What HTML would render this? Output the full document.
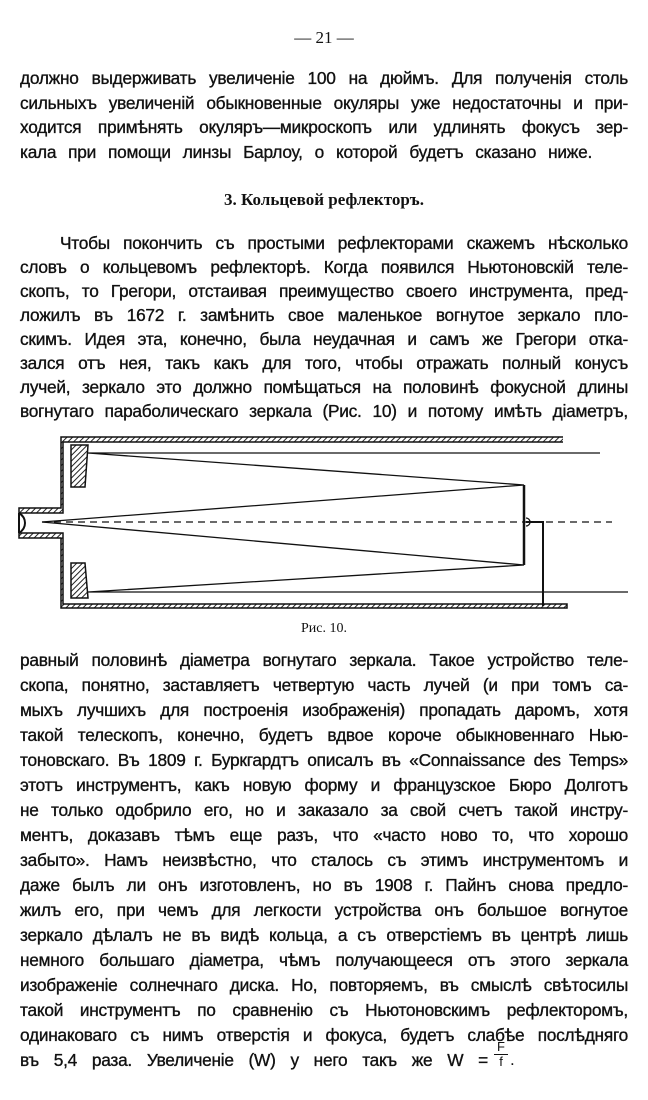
<!DOCTYPE html>
<html><head><meta charset="utf-8"><style>
body{margin:0;width:648px;height:1100px;background:#fff;position:relative;overflow:hidden;font-family:"Liberation Sans","DejaVu Sans",sans-serif;color:#111}
.l{position:absolute;left:20px;width:608px;font-size:17.3px;line-height:20px;text-align:justify;text-align-last:justify;white-space:nowrap;letter-spacing:-0.25px;-webkit-text-stroke:0.35px #111}
.c{position:absolute;left:0;width:648px;text-align:center}
</style></head><body>
<div class="c" style="top:28px;font-size:17px;font-family:'Liberation Serif',serif">— 21 —</div>
<div class="l" style="top:68px">должно выдерживать увеличеніе 100 на дюймъ. Для полученія столь</div>
<div class="l" style="top:93px">сильныхъ увеличеній обыкновенные окуляры уже недостаточны и при-</div>
<div class="l" style="top:117px">ходится примѣнять окуляръ—микроскопъ или удлинять фокусъ зер-</div>
<div class="l" style="top:142px;width:572px">кала при помощи линзы Барлоу, о которой будетъ сказано ниже.</div>
<div class="c" style="top:190px;font-size:17px;font-weight:bold;font-family:'Liberation Serif',serif">3. Кольцевой рефлекторъ.</div>
<div class="l" style="top:233px;left:60px;width:568px">Чтобы покончить съ простыми рефлекторами скажемъ нѣсколько</div>
<div class="l" style="top:257px">словъ о кольцевомъ рефлекторѣ. Когда появился Ньютоновскій теле-</div>
<div class="l" style="top:281px">скопъ, то Грегори, отстаивая преимущество своего инструмента, пред-</div>
<div class="l" style="top:305px">ложилъ въ 1672 г. замѣнить свое маленькое вогнутое зеркало пло-</div>
<div class="l" style="top:329px">скимъ. Идея эта, конечно, была неудачная и самъ же Грегори отка-</div>
<div class="l" style="top:353px">зался отъ нея, такъ какъ для того, чтобы отражать полный конусъ</div>
<div class="l" style="top:377px">лучей, зеркало это должно помѣщаться на половинѣ фокусной длины</div>
<div class="l" style="top:401px">вогнутаго параболическаго зеркала (Рис. 10) и потому имѣть діаметръ,</div>
<svg style="position:absolute;left:0;top:0" width="648" height="1100">
<defs><pattern id="h" width="4" height="4" patternUnits="userSpaceOnUse" patternTransform="rotate(45)"><rect width="4" height="4" fill="#fff"/><line x1="0" y1="0" x2="0" y2="4" stroke="#222" stroke-width="2"/></pattern></defs>
<g stroke="#111" fill="none">
<path d="M563 437 H61 V508 H19 V513 H63 V442 H563" fill="url(#h)" stroke-width="1.5"/>
<path d="M567 608 H61 V538 H19 V533 H63 V604 H567 Z" fill="url(#h)" stroke-width="1.5"/>
<path d="M19 513 V533 M19 513 C27 518 27 528 19 533" stroke-width="2"/>
<path d="M71 445 H88 L85 487 H71 Z" fill="url(#h)" stroke-width="1.5"/>
<path d="M71 563 H85 L88 598 H71 Z" fill="url(#h)" stroke-width="1.5"/>
<path d="M88 453 H600 M88 453 L524 485 L42 522 L524 565 L88 592 H628" stroke-width="1.3"/>
<path d="M524 485 V565" stroke-width="2.5"/>
<path d="M42 522 H612" stroke-dasharray="7 5" stroke-width="1.3"/>
<path d="M526 518 a4 4 0 0 1 0 8" stroke-width="1.3"/>
<path d="M526 522 H543 V606" stroke-width="2"/>
</g></svg>
<div class="c" style="top:621px;font-size:14px;font-family:'Liberation Serif',serif">Рис. 10.</div>
<div class="l" style="top:650px">равный половинѣ діаметра вогнутаго зеркала. Такое устройство теле-</div>
<div class="l" style="top:675px">скопа, понятно, заставляетъ четвертую часть лучей (и при томъ са-</div>
<div class="l" style="top:700px">мыхъ лучшихъ для построенія изображенія) пропадать даромъ, хотя</div>
<div class="l" style="top:725px">такой телескопъ, конечно, будетъ вдвое короче обыкновеннаго Нью-</div>
<div class="l" style="top:750px">тоновскаго. Въ 1809 г. Буркгардтъ описалъ въ «Connaissance des Temps»</div>
<div class="l" style="top:775px">этотъ инструментъ, какъ новую форму и французское Бюро Долготъ</div>
<div class="l" style="top:800px">не только одобрило его, но и заказало за свой счетъ такой инстру-</div>
<div class="l" style="top:825px">ментъ, доказавъ тѣмъ еще разъ, что «часто ново то, что хорошо</div>
<div class="l" style="top:850px">забыто». Намъ неизвѣстно, что сталось съ этимъ инструментомъ и</div>
<div class="l" style="top:875px">даже былъ ли онъ изготовленъ, но въ 1908 г. Пайнъ снова предло-</div>
<div class="l" style="top:900px">жилъ его, при чемъ для легкости устройства онъ большое вогнутое</div>
<div class="l" style="top:925px">зеркало дѣлалъ не въ видѣ кольца, а съ отверстіемъ въ центрѣ лишь</div>
<div class="l" style="top:950px">немного большаго діаметра, чѣмъ получающееся отъ этого зеркала</div>
<div class="l" style="top:975px">изображеніе солнечнаго диска. Но, повторяемъ, въ смыслѣ свѣтосилы</div>
<div class="l" style="top:1000px">такой инструментъ по сравненію съ Ньютоновскимъ рефлекторомъ,</div>
<div class="l" style="top:1025px">одинаковаго съ нимъ отверстія и фокуса, будетъ слабѣе послѣдняго</div>
<div class="l" style="top:1050px;width:468px">въ 5,4 раза. Увеличеніе (W) у него такъ же W =</div>
<div style="position:absolute;left:494px;top:1040px;font-size:13px;text-align:center;width:14px;line-height:14px">F<div style="border-top:1px solid #111">f</div></div>
<div style="position:absolute;left:510px;top:1050px;font-size:17px;line-height:20px">.</div>
</body></html>
